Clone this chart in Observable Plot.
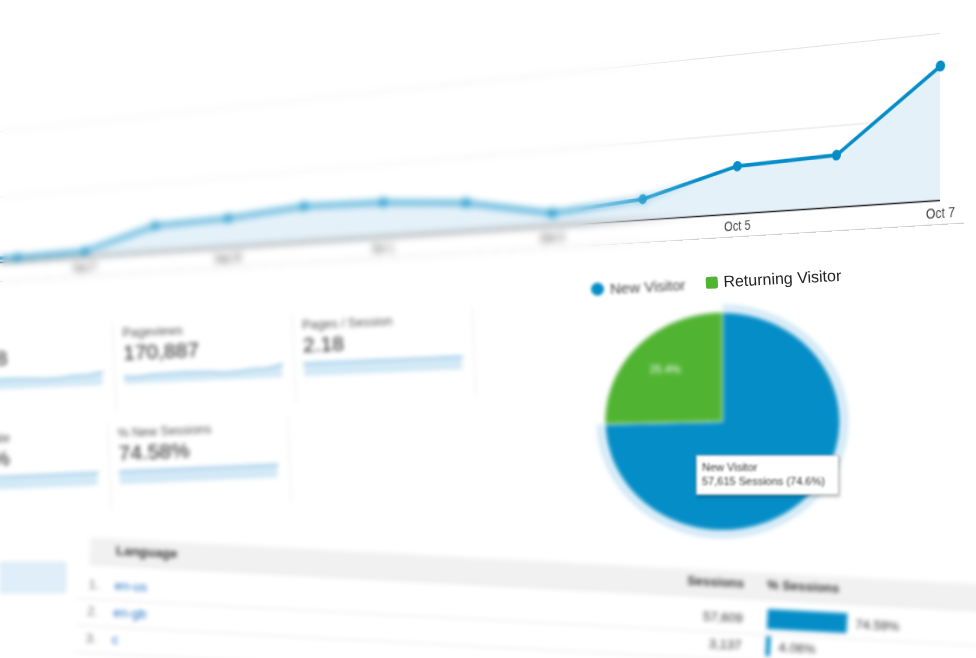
<!DOCTYPE html>
<html>
<head>
<meta charset="utf-8">
<script src="https://cdn.jsdelivr.net/npm/d3@7"></script>
<script src="https://cdn.jsdelivr.net/npm/@observablehq/plot@0.6"></script>
<style>
  html, body { margin:0; padding:0; background:#fff; }
  body { width:976px; height:658px; overflow:hidden; position:relative; font-family: Arial, "Liberation Sans", Helvetica, sans-serif; color:#333; }
  #stage { position:absolute; left:0; top:0; width:976px; height:658px; overflow:hidden; background:#fff; }
  svg { overflow: visible; max-width: none !important; }
</style>
</head>
<body>
<div id="stage"></div>
<script>
// ---------------- data ----------------
// Sessions per day (line chart)
const days = ["2015-09-25","2015-09-26","2015-09-27","2015-09-28","2015-09-29","2015-09-30",
              "2015-10-01","2015-10-02","2015-10-03","2015-10-04","2015-10-05","2015-10-06","2015-10-07"];
const sessions = [450, 300, 440, 1950, 2100, 2550, 2400, 1950, 850, 1350, 3000, 3200, 8050];
const axisTicks = ["2015-09-27","2015-09-29","2015-10-01","2015-10-03","2015-10-05","2015-10-07"];
const gridTicks = [5000, 10000];

// New vs returning visitors (pie)
const pieLabels = ["New Visitor", "Returning Visitor"];
const pieSessions = [57615, 19616];
const pieColors = ["#058dc7", "#50b432"];

// Scorecards
const row1Names  = ["Users", "Pageviews", "Pages / Session"];
const row1Values = ["57,698", "170,887", "2.18"];
const row1Spark  = [
  [55, 52, 60, 62, 64, 63, 60, 54, 57, 66, 68, 82],
  [50, 48, 58, 60, 62, 61, 57, 50, 54, 64, 66, 88],
  [60, 61, 60, 59, 60, 61, 60, 59, 60, 60, 61, 60]
];
const row2Names  = ["Bounce Rate", "% New Sessions"];
const row2Values = ["57.49%", "74.58%"];
const row2Spark  = [
  [58, 57, 58, 59, 58, 57, 58, 58, 57, 58, 57, 58],
  [74, 75, 74, 74, 75, 74, 74, 75, 74, 74, 75, 74]
];

// Language table
const tableLangs    = ["en-us", "en-gb", "c"];
const tableSessions = [57609, 3137, 2211];
const tablePct      = [74.59, 4.06, 2.86];

// ---------------- helpers ----------------
const stage = document.getElementById("stage");
const font = "Arial, 'Liberation Sans', Helvetica, sans-serif";
const parse = d3.utcParse("%Y-%m-%d");
function div(css, html) {
  const e = document.createElement("div");
  e.style.cssText = css;
  if (html !== undefined) e.innerHTML = html;
  return e;
}

// ---------------- line chart (drawn flat, then tilted in perspective) ----------------
const series = days.map((d, i) => ({date: parse(d), value: sessions[i]}));
const step = 123, plotH = 167, mL = 20, mR = 14, mT = 10, mB = 24;
const plotW = step * (days.length - 1);

const lineChart = Plot.plot({
  width: mL + plotW + mR, height: mT + plotH + mB,
  marginLeft: mL, marginRight: mR, marginTop: mT, marginBottom: mB,
  style: {background: "transparent", fontFamily: font, fontSize: "14px", color: "#444", overflow: "visible"},
  x: {type: "utc", domain: d3.extent(series, d => d.date)},
  y: {domain: [0, 10000], axis: null},
  marks: [
    Plot.gridY(gridTicks, {stroke: "#e2e2e2", strokeOpacity: 1}),
    Plot.areaY(series, {x: "date", y: "value", fill: "#e4f1f9"}),
    Plot.axisX(axisTicks.map(parse), {tickSize: 0, tickPadding: 8, tickFormat: d3.utcFormat("%b %-d"), label: null}),
    Plot.ruleY([0], {stroke: "#222", strokeWidth: 1.5}),
    Plot.lineY(series, {x: "date", y: "value", stroke: "#058dc7", strokeWidth: 4}),
    Plot.dot(series, {x: "date", y: "value", r: 5.5, fill: "#058dc7"})
  ]
});
const ox = mL + plotW, oy = mT + plotH;
const wrap = div(`position:absolute; left:${940 - ox}px; top:${200 - oy}px; width:${ox + 27}px; height:${mT + plotH + mB}px;
  border-bottom:1px solid #d0d0d0; transform-origin:${ox}px ${oy}px;
  transform: perspective(2506px) skewY(-3.78deg) rotateY(-30deg);`);
wrap.appendChild(lineChart);
stage.appendChild(wrap);

// depth-of-field blur on the far (left) part of the line chart
stage.appendChild(div(`position:absolute; left:0; top:0; width:760px; height:300px;
  backdrop-filter: blur(3.8px); -webkit-backdrop-filter: blur(3.8px);
  -webkit-mask-image: linear-gradient(to right, #000 0%, #000 76%, transparent 92%);
  mask-image: linear-gradient(to right, #000 0%, #000 76%, transparent 92%);`));

// ---------------- scorecards ----------------
function spark(vals) {
  const data = vals.map((v, i) => ({i, v}));
  return Plot.plot({
    width: 158, height: 14, margin: 0,
    style: {background: "transparent", overflow: "visible"},
    x: {domain: [0, vals.length - 1], axis: null},
    y: {domain: [0, d3.max(vals) * 1.05], axis: null},
    marks: [
      Plot.areaY(data, {x: "i", y: "v", fill: "#d3e9f6"}),
      Plot.lineY(data, {x: "i", y: "v", stroke: "#a6d0ea", strokeWidth: 2.5})
    ]
  });
}
const cards = div(`position:absolute; left:-60px; top:330px; width:560px; height:200px;
  transform: rotate(-2.5deg); transform-origin: 0 0; filter: blur(2.3px);`);
[[row1Names, row1Values, row1Spark], [row2Names, row2Values, row2Spark]].forEach(([names, values, sparks], r) => {
  names.forEach((name, c) => {
    const card = div(`position:absolute; left:${c * 180 - r * 9}px; top:${r * 100}px; width:172px; height:88px; border-right:1px solid #ececec;`);
    card.appendChild(div(`position:absolute; left:2px; top:4px; font-size:12.5px; color:#555; white-space:nowrap;`, name));
    card.appendChild(div(`position:absolute; left:2px; top:19px; font-size:21px; color:#222; white-space:nowrap;`, values[c]));
    const sp = div(`position:absolute; left:2px; top:48px;`);
    sp.appendChild(spark(sparks[c]));
    card.appendChild(sp);
    cards.appendChild(card);
  });
});
stage.appendChild(cards);

// ---------------- pie chart ----------------
const total = d3.sum(pieSessions);
const arcs = d3.pie().sort(null)(pieSessions);
function wedge(a0, a1, r0, r1) {
  const n = Math.max(4, Math.ceil((a1 - a0) / 0.01));
  const pts = [];
  for (let k = 0; k <= n; k++) { const a = a0 + (a1 - a0) * k / n; pts.push({x: r1 * Math.sin(a), y: r1 * Math.cos(a)}); }
  if (r0 > 0) for (let k = n; k >= 0; k--) { const a = a0 + (a1 - a0) * k / n; pts.push({x: r0 * Math.sin(a), y: r0 * Math.cos(a)}); }
  else pts.push({x: 0, y: 0});
  pts.push(pts[0]);
  return pts;
}
const pct = d => d3.format(".1f")(d.data / total * 100) + "%";
const mid = a => (a.startAngle + a.endAngle) / 2;
const pie = Plot.plot({
  width: 254, height: 236, margin: 0,
  style: {background: "transparent", fontFamily: font, overflow: "visible"},
  x: {domain: [-1.08, 1.08], axis: null},
  y: {domain: [-1.08, 1.08], axis: null},
  marks: [
    Plot.line(wedge(arcs[0].startAngle, arcs[0].endAngle, 1.02, 1.07), {x: "x", y: "y", fill: "#d0e8f6", stroke: "none"}),
    ...arcs.map((a, i) => Plot.line(wedge(a.startAngle, a.endAngle, 0, 1), {x: "x", y: "y", fill: pieColors[i], stroke: "#fff", strokeWidth: 1})),
    // the New Visitor label sits under the tooltip in the reference, so only the Returning slice is labelled
    Plot.text(arcs.slice(1), {x: a => 0.68 * Math.sin(mid(a)), y: a => 0.68 * Math.cos(mid(a)), text: pct, fill: "#fff", fontSize: 11})
  ]
});
const pieWrap = div(`position:absolute; left:595px; top:303px; filter: blur(2px);`);
pieWrap.appendChild(pie);
stage.appendChild(pieWrap);

// tooltip over the pie
stage.appendChild(div(`position:absolute; left:696px; top:455px; width:131px; height:30px; padding:4px 5px;
  background:#fff; border:1px solid #bbb; box-shadow:1px 2px 3px rgba(0,0,0,0.25); font-size:11px; line-height:14px;
  color:#333; white-space:nowrap; filter: blur(1.3px);`,
  `${pieLabels[0]}<br>${d3.format(",")(pieSessions[0])} Sessions (${d3.format(".1f")(pieSessions[0] / total * 100)}%)`));

// legend
const legend = div(`position:absolute; left:591px; top:280px; height:18px; display:flex; align-items:center;
  transform: rotate(-3deg); transform-origin: 0 50%; font-size:15px; color:#222; white-space:nowrap;`);
legend.innerHTML =
  `<span style="display:flex;align-items:center;filter:blur(1.8px)">
     <span style="display:inline-block;width:13px;height:13px;border-radius:50%;background:${pieColors[0]}"></span>
     <span style="margin-left:6px;color:#444">${pieLabels[0]}</span></span>
   <span style="display:inline-block;margin-left:20px;width:12px;height:12px;border-radius:2px;background:${pieColors[1]}"></span>
   <span style="margin-left:6px;font-size:16px">${pieLabels[1]}</span>`;
stage.appendChild(legend);

// ---------------- language table ----------------
stage.appendChild(div(`position:absolute; left:0; top:562px; width:64px; height:29px; background:#dfeef8;
  border:1px solid #cfe3f1; filter: blur(2px);`));
const table = div(`position:absolute; left:100px; top:550px; width:900px; height:130px;
  transform: rotate(3deg); transform-origin: 0 0; filter: blur(2.3px);`);
table.appendChild(div(`position:absolute; left:-10px; top:-12px; width:900px; height:26px; background:#f1f1f1; border-bottom:1px solid #e2e2e2;`));
table.appendChild(div(`position:absolute; left:16px; top:-8px; font-size:13px; font-weight:bold; color:#333;`, "Language"));
table.appendChild(div(`position:absolute; left:575px; width:70px; text-align:right; top:-8px; font-size:13px; font-weight:bold; color:#333;`, "Sessions"));
table.appendChild(div(`position:absolute; left:668px; top:-8px; font-size:13px; font-weight:bold; color:#333;`, "% Sessions"));
const rows = tableLangs.map((l, i) => ({rank: String(i + 1), lang: l, sessions: tableSessions[i], pct: tablePct[i]}));
const tablePlot = Plot.plot({
  width: 950, height: 115, margin: 0,
  style: {background: "transparent", fontFamily: font, fontSize: "13px", overflow: "visible"},
  x: {domain: [0, 100], range: [690, 797], axis: null},
  y: {type: "band", domain: rows.map(d => d.rank), range: [16, 106], padding: 0.25, axis: null},
  marks: [
    Plot.tickY(rows, {y: "rank", stroke: "#e6e6e6", dy: 15}),
    Plot.text(rows, {y: "rank", text: d => d.rank + ".", frameAnchor: "left", dx: 10, fill: "#777"}),
    Plot.text(rows, {y: "rank", text: "lang", frameAnchor: "left", dx: 36, fill: "#1a6fc4"}),
    Plot.text(rows, {x: 0, y: "rank", text: d => d3.format(",")(d.sessions), textAnchor: "end", dx: -25, fill: "#333"}),
    Plot.barX(rows, {x: "pct", y: "rank", fill: "#058dc7"}),
    Plot.text(rows, {x: "pct", y: "rank", text: d => d3.format(".2f")(d.pct) + "%", textAnchor: "start", dx: 8, fill: "#333"})
  ]
});
const tp = div(`position:absolute; left:-20px; top:0;`);
tp.appendChild(tablePlot);
table.appendChild(tp);
stage.appendChild(table);
</script>
</body>
</html>
